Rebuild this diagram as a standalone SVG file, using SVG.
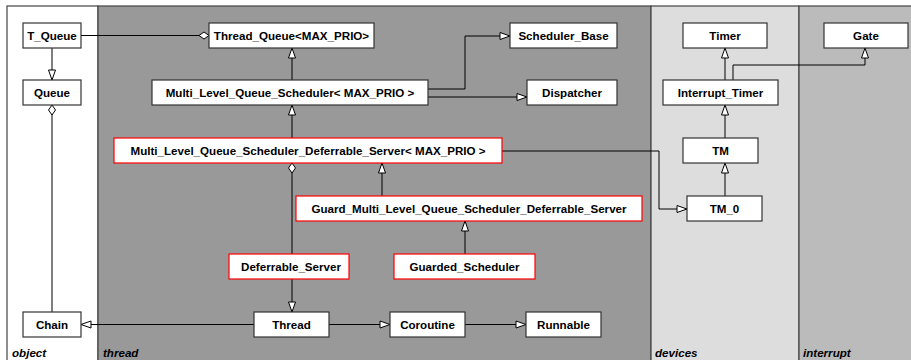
<svg xmlns="http://www.w3.org/2000/svg" width="911" height="360" viewBox="0 0 911 360">
  <style>
    .lane { stroke: #444; stroke-width: 1.2; }
    .lane-label { font-family: "Liberation Sans", Arial, sans-serif; font-size: 11.6px; font-weight: bold; font-style: italic; fill: #000; }
    .node rect { fill: #fff; stroke: #333; stroke-width: 1.2; }
    .node.hl rect { stroke: #f00; }
    .node text { font-family: "Liberation Sans", Arial, sans-serif; font-size: 11.6px; font-weight: bold; fill: #000; text-anchor: middle; }
    .edge { fill: none; stroke: #000; stroke-width: 1; }
    .gen { marker-end: url(#tri); }
    .agg { marker-end: url(#dia); }
  </style>
  <defs>
    <marker id="tri" markerUnits="userSpaceOnUse" markerWidth="12" markerHeight="9" refX="10" refY="3.5" orient="auto" overflow="visible">
      <path d="M0,0 L10,3.5 L0,7 Z" fill="#fff" stroke="#000" stroke-width="1"/>
    </marker>
    <marker id="dia" markerUnits="userSpaceOnUse" markerWidth="12" markerHeight="9" refX="10" refY="3.5" orient="auto" overflow="visible">
      <path d="M0,3.5 L5,0 L10,3.5 L5,7 Z" fill="#fff" stroke="#000" stroke-width="1"/>
    </marker>
  </defs>

  <!-- package lanes -->
  <g id="lanes">
    <rect x="0" y="0" width="911" height="360" fill="#fff"/>
    <rect class="lane" x="7" y="6" width="91" height="360" fill="#fff"/>
    <rect class="lane" x="98" y="6" width="553" height="360" fill="#999"/>
    <rect class="lane" x="651" y="6" width="148" height="360" fill="#ddd"/>
    <rect class="lane" x="799" y="6" width="120" height="360" fill="#bbb"/>
    <text class="lane-label" x="12" y="357">object</text>
    <text class="lane-label" x="103" y="357">thread</text>
    <text class="lane-label" x="655" y="357">devices</text>
    <text class="lane-label" x="803" y="357">interrupt</text>
  </g>

  <!-- connectors -->
  <g id="connectors">
    <path class="edge agg" d="M81,35.5 H209"/>
    <path class="edge gen" d="M52,48 V80"/>
    <path class="edge agg" d="M52,312 V105"/>
    <path class="edge gen" d="M292,80 V48"/>
    <path class="edge gen" d="M428,89 H465 V36 H510"/>
    <path class="edge gen" d="M428,97 H527"/>
    <path class="edge gen" d="M292,138 V105"/>
    <path class="edge gen" d="M502,151 H659 V209 H687"/>
    <path class="edge gen" d="M382,196 V163"/>
    <path class="edge agg" d="M292,254 V163"/>
    <path class="edge gen" d="M465,254 V221"/>
    <path class="edge gen" d="M292,279 V312"/>
    <path class="edge gen" d="M254,324.5 H81"/>
    <path class="edge gen" d="M329,324.5 H390"/>
    <path class="edge gen" d="M465,324.5 H526"/>
    <path class="edge gen" d="M725,80 V48"/>
    <path class="edge gen" d="M733,80 V65 H865 V48"/>
    <path class="edge gen" d="M725,138 V105"/>
    <path class="edge gen" d="M725,196 V163"/>
  </g>

  <!-- classes -->
  <g id="T_Queue" class="node"><rect x="23" y="23" width="58" height="25"/><text x="52" y="39.5">T_Queue</text></g>
  <g id="Queue" class="node"><rect x="23" y="80" width="58" height="25"/><text x="52" y="96.5">Queue</text></g>
  <g id="Chain" class="node"><rect x="23" y="312" width="58" height="25"/><text x="52" y="328.5">Chain</text></g>
  <g id="Thread_Queue" class="node"><rect x="209" y="23" width="165" height="25"/><text x="291.5" y="39.5">Thread_Queue&lt;MAX_PRIO&gt;</text></g>
  <g id="Scheduler_Base" class="node"><rect x="510" y="23" width="107" height="25"/><text x="563.5" y="39.5">Scheduler_Base</text></g>
  <g id="Multi_Level_Queue_Scheduler" class="node"><rect x="152" y="80" width="276" height="25"/><text x="290" y="96.5">Multi_Level_Queue_Scheduler&lt; MAX_PRIO &gt;</text></g>
  <g id="Dispatcher" class="node"><rect x="527" y="80" width="90" height="25"/><text x="572" y="96.5">Dispatcher</text></g>
  <g id="Multi_Level_Queue_Scheduler_Deferrable_Server" class="node hl"><rect x="114" y="138" width="388" height="25"/><text x="308" y="154.5">Multi_Level_Queue_Scheduler_Deferrable_Server&lt; MAX_PRIO &gt;</text></g>
  <g id="Guard_Multi_Level_Queue_Scheduler_Deferrable_Server" class="node hl"><rect x="296" y="196" width="346" height="25"/><text x="469" y="212.5">Guard_Multi_Level_Queue_Scheduler_Deferrable_Server</text></g>
  <g id="Deferrable_Server" class="node hl"><rect x="229" y="254" width="120" height="25"/><text x="291" y="270.5">Deferrable_Server</text></g>
  <g id="Guarded_Scheduler" class="node hl"><rect x="394" y="254" width="141" height="25"/><text x="464.5" y="270.5">Guarded_Scheduler</text></g>
  <g id="Thread" class="node"><rect x="254" y="312" width="75" height="25"/><text x="291.5" y="328.5">Thread</text></g>
  <g id="Coroutine" class="node"><rect x="390" y="312" width="75" height="25"/><text x="427.5" y="328.5">Coroutine</text></g>
  <g id="Runnable" class="node"><rect x="526" y="312" width="75" height="25"/><text x="563.5" y="328.5">Runnable</text></g>
  <g id="Timer" class="node"><rect x="683" y="23" width="84" height="25"/><text x="725" y="39.5">Timer</text></g>
  <g id="Interrupt_Timer" class="node"><rect x="663" y="80" width="115" height="25"/><text x="720.5" y="96.5">Interrupt_Timer</text></g>
  <g id="TM" class="node"><rect x="683" y="138" width="75" height="25"/><text x="720.5" y="154.5">TM</text></g>
  <g id="TM_0" class="node"><rect x="687" y="196" width="75" height="25"/><text x="724.5" y="212.5">TM_0</text></g>
  <g id="Gate" class="node"><rect x="824" y="23" width="84" height="25"/><text x="866" y="39.5">Gate</text></g>
</svg>
